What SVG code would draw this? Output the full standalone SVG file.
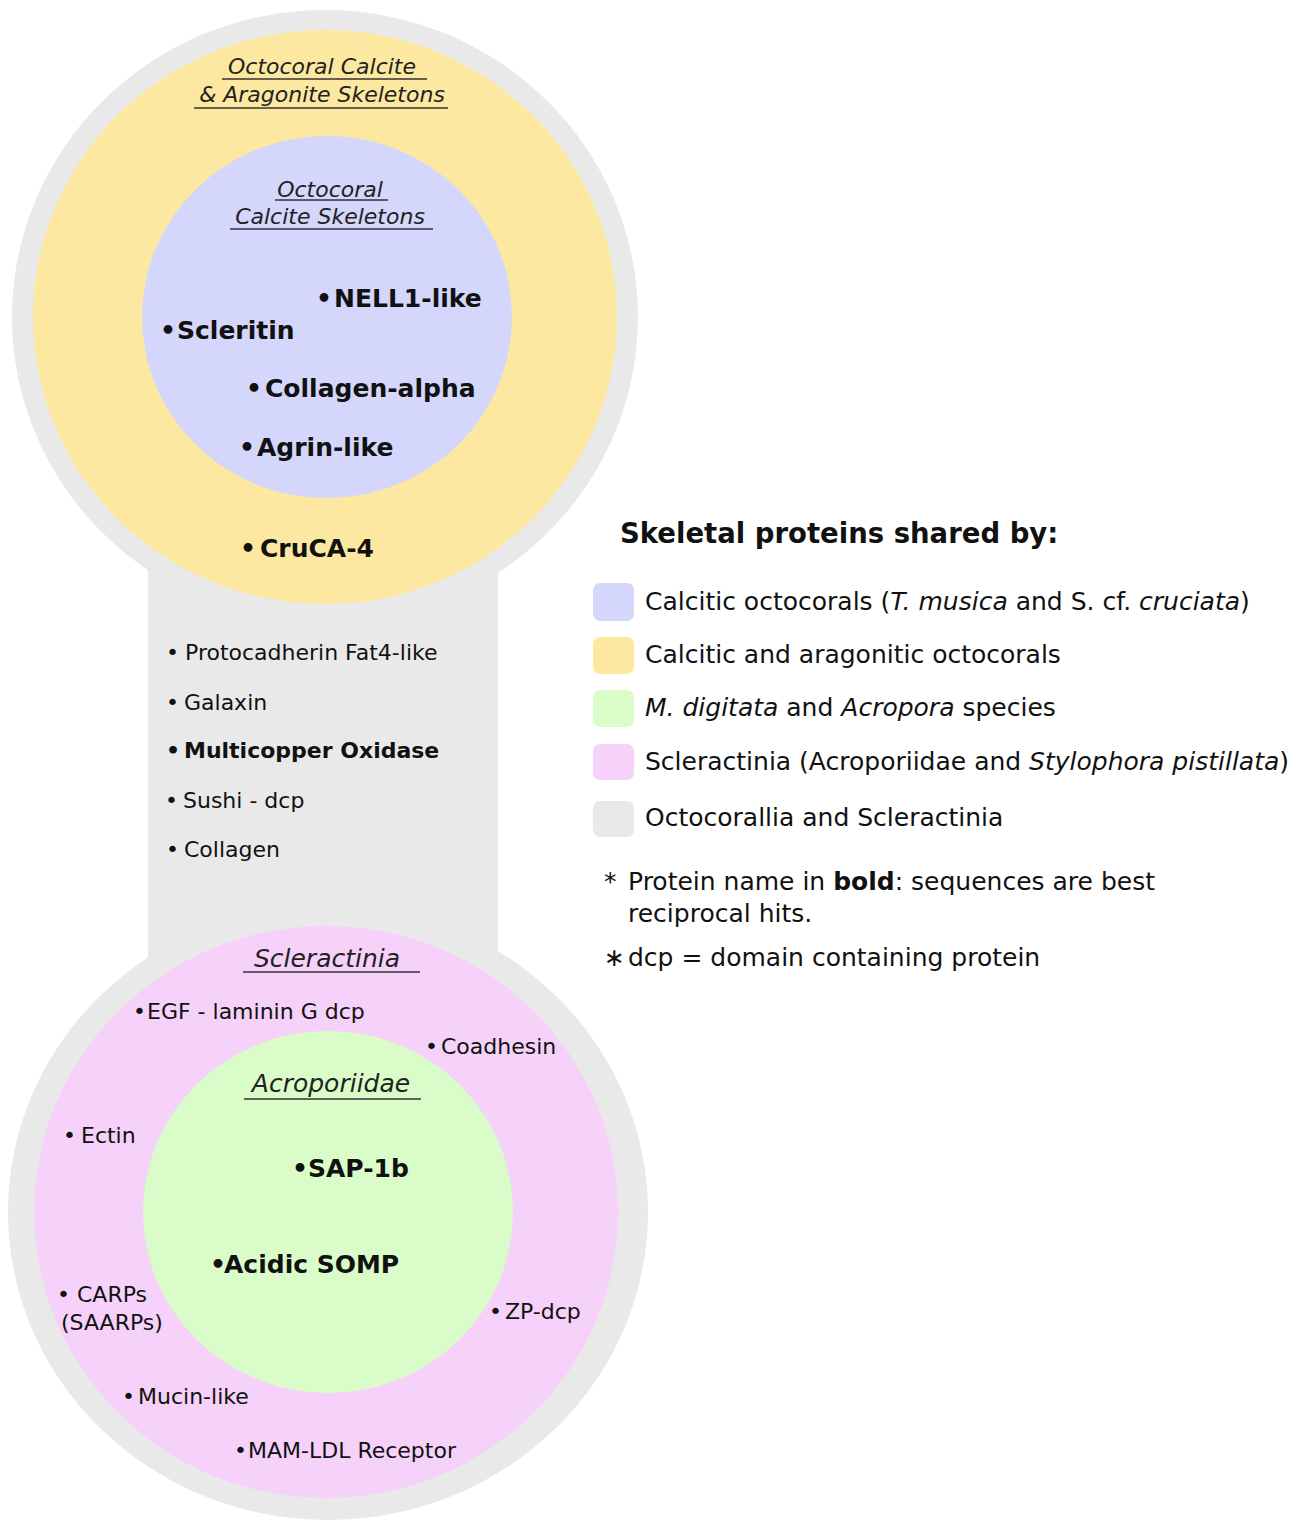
<svg xmlns="http://www.w3.org/2000/svg" width="1300" height="1523" viewBox="0 0 1300 1523">
<style>
text{font-family:"DejaVu Sans","Noto Sans",sans-serif;fill:#111}
.bb{font-weight:bold;font-size:25px}
.r{font-size:22px}
.rb{font-size:22px;font-weight:bold}
.it{font-style:italic;font-size:22px;fill:#222}
.it2{font-style:italic;font-size:25px;fill:#222}
.ul{stroke:#333;stroke-width:1.5}
.lg{font-size:25px}
.grey{fill:#e9e9e9}
.yel{fill:#fde8a1}
.blu{fill:#d4d6fc}
.grn{fill:#dafcc9}
.pnk{fill:#f6d2fa}
</style>
<rect width="1300" height="1523" fill="#ffffff"/>
<g id="background">
  <ellipse class="grey" cx="325" cy="317" rx="313" ry="307"/>
  <ellipse class="grey" cx="328" cy="1212" rx="320" ry="308"/>
  <rect class="grey" x="148" y="500" width="350" height="520"/>
</g>
<g id="octocoral-calcite-aragonite">
  <ellipse class="yel" cx="325" cy="317" rx="292" ry="287"/>
  <text class="it" x="322" y="74" text-anchor="middle">Octocoral Calcite</text>
  <line class="ul" x1="222" y1="79" x2="427" y2="79"/>
  <text class="it" x="322" y="102" text-anchor="middle">&amp; Aragonite Skeletons</text>
  <line class="ul" x1="194" y1="108" x2="448" y2="108"/>
  <text class="bb" y="557"><tspan x="240">•</tspan><tspan x="260">CruCA-4</tspan></text>
</g>
<g id="octocoral-calcite">
  <ellipse class="blu" cx="327" cy="317" rx="185" ry="181"/>
  <text class="it" x="330" y="197" text-anchor="middle">Octocoral</text>
  <line class="ul" x1="275" y1="200" x2="388" y2="200"/>
  <text class="it" x="330" y="224" text-anchor="middle">Calcite Skeletons</text>
  <line class="ul" x1="230" y1="229" x2="433" y2="229"/>
  <text class="bb" y="307"><tspan x="316">•</tspan><tspan x="334">NELL1-like</tspan></text>
  <text class="bb" y="339"><tspan x="160">•</tspan><tspan x="177">Scleritin</tspan></text>
  <text class="bb" y="397"><tspan x="246">•</tspan><tspan x="265">Collagen-alpha</tspan></text>
  <text class="bb" y="456"><tspan x="239">•</tspan><tspan x="257">Agrin-like</tspan></text>
</g>
<g id="octocorallia-scleractinia">
  <text class="r" y="660"><tspan x="166">•</tspan><tspan x="185">Protocadherin Fat4-like</tspan></text>
  <text class="r" y="710"><tspan x="166">•</tspan><tspan x="184">Galaxin</tspan></text>
  <text class="rb" y="758"><tspan x="166">•</tspan><tspan x="184">Multicopper Oxidase</tspan></text>
  <text class="r" y="808"><tspan x="165">•</tspan><tspan x="183">Sushi - dcp</tspan></text>
  <text class="r" y="857"><tspan x="166">•</tspan><tspan x="184">Collagen</tspan></text>
</g>
<g id="scleractinia">
  <ellipse class="pnk" cx="326" cy="1212" rx="292" ry="286"/>
  <text class="it2" x="327" y="967" text-anchor="middle">Scleractinia</text>
  <line class="ul" x1="243" y1="972" x2="420" y2="972"/>
  <text class="r" y="1019"><tspan x="133">•</tspan><tspan x="147">EGF - laminin G dcp</tspan></text>
  <text class="r" y="1054"><tspan x="425">•</tspan><tspan x="441">Coadhesin</tspan></text>
  <text class="r" y="1143"><tspan x="63">•</tspan><tspan x="81">Ectin</tspan></text>
  <text class="r" y="1302"><tspan x="57">•</tspan><tspan x="77">CARPs</tspan></text>
  <text class="r" x="61" y="1330">(SAARPs)</text>
  <text class="r" y="1319"><tspan x="489">•</tspan><tspan x="505">ZP-dcp</tspan></text>
  <text class="r" y="1404"><tspan x="122">•</tspan><tspan x="138">Mucin-like</tspan></text>
  <text class="r" y="1458"><tspan x="234">•</tspan><tspan x="248">MAM-LDL Receptor</tspan></text>
</g>
<g id="acroporiidae">
  <ellipse class="grn" cx="328" cy="1212" rx="185" ry="181"/>
  <text class="it2" x="331" y="1092" text-anchor="middle">Acroporiidae</text>
  <line class="ul" x1="244" y1="1099" x2="421" y2="1099"/>
  <text class="bb" y="1177"><tspan x="292">•</tspan><tspan x="308">SAP-1b</tspan></text>
  <text class="bb" y="1273"><tspan x="210">•</tspan><tspan x="224">Acidic SOMP</tspan></text>
</g>
<g id="connectors"></g>
<g id="legend">
  <text x="620" y="543" font-weight="bold" font-size="27.5">Skeletal proteins shared by:</text>
  <rect class="blu" x="593" y="583" width="41" height="38" rx="7"/>
  <rect class="yel" x="593" y="637" width="41" height="37" rx="7"/>
  <rect class="grn" x="593" y="690" width="41" height="37" rx="7"/>
  <rect class="pnk" x="593" y="744" width="41" height="36" rx="7"/>
  <rect class="grey" x="593" y="801" width="41" height="36" rx="7"/>
  <text class="lg" x="645" y="610">Calcitic octocorals (<tspan font-style="italic">T. musica</tspan> and S. cf. <tspan font-style="italic">cruciata</tspan>)</text>
  <text class="lg" x="645" y="663">Calcitic and aragonitic octocorals</text>
  <text class="lg" x="645" y="716"><tspan font-style="italic">M. digitata</tspan> and <tspan font-style="italic">Acropora</tspan> species</text>
  <text class="lg" x="645" y="770">Scleractinia (Acroporiidae and <tspan font-style="italic">Stylophora pistillata</tspan>)</text>
  <text class="lg" x="645" y="826">Octocorallia and Scleractinia</text>
  <text class="lg" x="604" y="890">*</text>
  <text class="lg" x="628" y="890">Protein name in <tspan font-weight="bold">bold</tspan>: sequences are best</text>
  <text class="lg" x="628" y="922">reciprocal hits.</text>
  <text class="lg" x="604" y="966">∗</text>
  <text class="lg" x="628" y="966">dcp = domain containing protein</text>
</g>
</svg>
